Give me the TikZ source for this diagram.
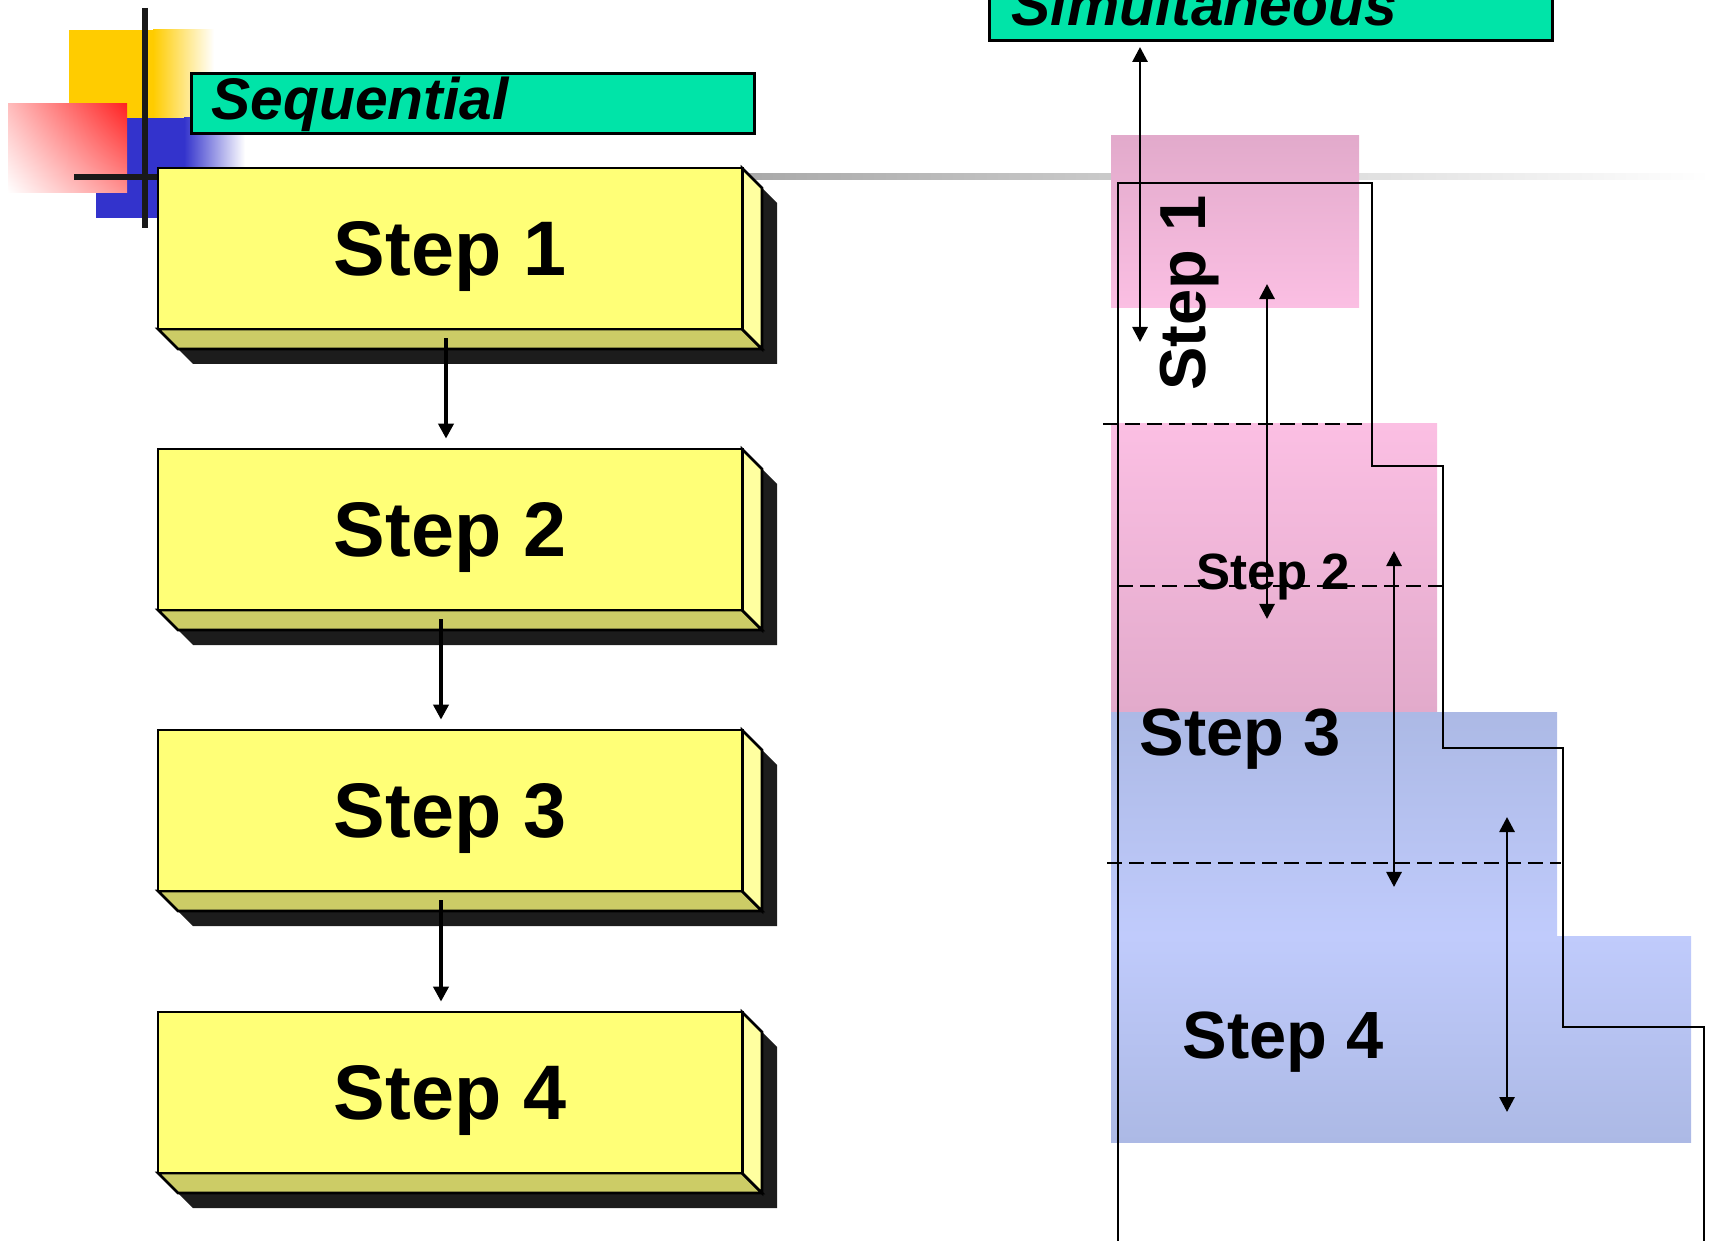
\documentclass[tikz,border=0pt]{standalone}
\usepackage{fontspec}
\setmainfont{Liberation Sans}
\usetikzlibrary{arrows.meta,shadings}
\definecolor{headgreen}{RGB}{0,228,168}
\definecolor{boxfront}{RGB}{255,255,119}
\definecolor{boxside}{RGB}{255,255,160}
\definecolor{boxbottom}{RGB}{204,204,102}
\definecolor{boxshadow}{RGB}{28,28,28}
\definecolor{decoyellow}{RGB}{255,204,0}
\definecolor{decoblue}{RGB}{51,51,204}
\definecolor{decored}{RGB}{255,34,34}
\definecolor{pinkdark}{RGB}{226,170,203}
\definecolor{pinklight}{RGB}{251,191,227}
\definecolor{bluedark}{RGB}{172,185,229}
\definecolor{bluelight}{RGB}{192,203,252}
\definecolor{rulegray}{RGB}{165,165,165}
\begin{document}
\begin{tikzpicture}[x=0.01cm,y=-0.01cm,
  seqbox/.style={draw=black,line width=0.75pt,fill=boxfront,minimum width=5.84cm,minimum height=1.61cm,inner sep=0pt,text depth=0pt,font=\fontsize{22}{26}\selectfont\bfseries},
  headbox/.style={draw=black,line width=0.8pt,fill=headgreen,minimum width=5.63cm,minimum height=0.60cm,inner sep=0pt,anchor=north west},
  headtext/.style={font=\fontsize{16.7}{20}\selectfont\bfseries\itshape,inner sep=0pt,anchor=base west},
  steptext/.style={font=\fontsize{19}{22}\selectfont\bfseries,inner sep=0pt,anchor=base west},
  seqarrow/.style={line width=1.2pt,-{Triangle[width=0.15cm,length=0.15cm]}},
  simarrow/.style={line width=0.8pt,{Triangle[width=0.15cm,length=0.15cm]}-{Triangle[width=0.15cm,length=0.15cm]}},
  stairline/.style={line width=0.8pt},
  stepdash/.style={line width=0.75pt,dash pattern=on 4.3pt off 2pt}]
\clip (0,0) rectangle (1710,1240);
\fill[decoyellow] (69,30) rectangle (153,120);
\shade[left color=decoyellow,right color=white] (153,30) rectangle (214,120);
\fill[decoblue] (96,118) rectangle (184,218);
\shade[left color=decoblue,right color=white] (184,118) rectangle (245,218);
\shade[upper left=decored!30,upper right=decored,lower left=white,lower right=decored!50] (8,104) rectangle (127,193);
\draw[line width=1.7pt,black!90] (145,8) -- (145,228);
\draw[line width=1.7pt,black!90] (74,177) -- (170,177);
\shade[left color=rulegray,right color=white] (700,174) rectangle (1710,180);
\node[headbox] (seqhead) at (190,72) {};
\node[headtext] (seqlabel) at (211,120) {Sequential};
\node[headbox] (simhead) at (988,-21) {};
\node[headtext] (simlabel) at (1011,26) {Simultaneous};
\foreach \i/\y in {1/168,2/449,3/730,4/1012}{
  \fill[boxshadow] (173,\y+15) -- (757,\y+15) -- (777,\y+35) -- (777,\y+196) -- (193,\y+196) -- (173,\y+176) -- cycle;
  \filldraw[fill=boxbottom,line width=0.75pt] (158,\y+161) -- (742,\y+161) -- (762,\y+181) -- (178,\y+181) -- cycle;
  \filldraw[fill=boxside,line width=0.75pt] (742,\y) -- (762,\y+20) -- (762,\y+181) -- (742,\y+161) -- cycle;
  \node[seqbox] (s\i) at (450,\y+80.5) {Step \i};
}
\draw[seqarrow] ([xshift=-0.04cm,yshift=-0.08cm]s1.south) -- ([xshift=-0.04cm,yshift=0.09cm]s2.north);
\draw[seqarrow] ([xshift=-0.09cm,yshift=-0.08cm]s2.south) -- ([xshift=-0.09cm,yshift=0.09cm]s3.north);
\draw[seqarrow] ([xshift=-0.09cm,yshift=-0.08cm]s3.south) -- ([xshift=-0.09cm,yshift=0.09cm]s4.north);
\shade[top color=pinkdark,bottom color=pinklight] (1111,136) rectangle (1359,308);
\shade[top color=pinklight,bottom color=pinkdark] (1111,424) rectangle (1437,712);
\shade[top color=bluedark,bottom color=bluelight] (1111,712) rectangle (1557,936);
\shade[top color=bluelight,bottom color=bluedark] (1111,936) rectangle (1691,1142);
\node[steptext,font=\fontsize{18.5}{22}\selectfont\bfseries,rotate=90,anchor=base] (r1) at (1205,293) {Step 1};
\node[steptext,font=\fontsize{14.5}{17}\selectfont\bfseries] (r2) at (1196,589) {Step 2};
\node[steptext] (r3) at (1139,755) {Step 3};
\node[steptext] (r4) at (1182,1058) {Step 4};
\draw[stairline] (1118,1245) |- (1372,183) |- (1443,466) |- (1563,748) |- (1704,1027) -- (1704,1245);
\draw[stepdash] (1103,424) -- (1364,424);
\draw[stepdash] (1118,586) -- (1448,586);
\draw[stepdash] (1107,863) -- (1561,863);
\foreach \k/\x/\a/\b in {1/1140/47/342,2/1267/284/619,3/1394/551/887,4/1507/817/1112}{
  \coordinate (top\k) at (\x,\a);
  \coordinate (bot\k) at (\x,\b);
  \draw[simarrow] (top\k) -- (bot\k);
}
\end{tikzpicture}
\end{document}
